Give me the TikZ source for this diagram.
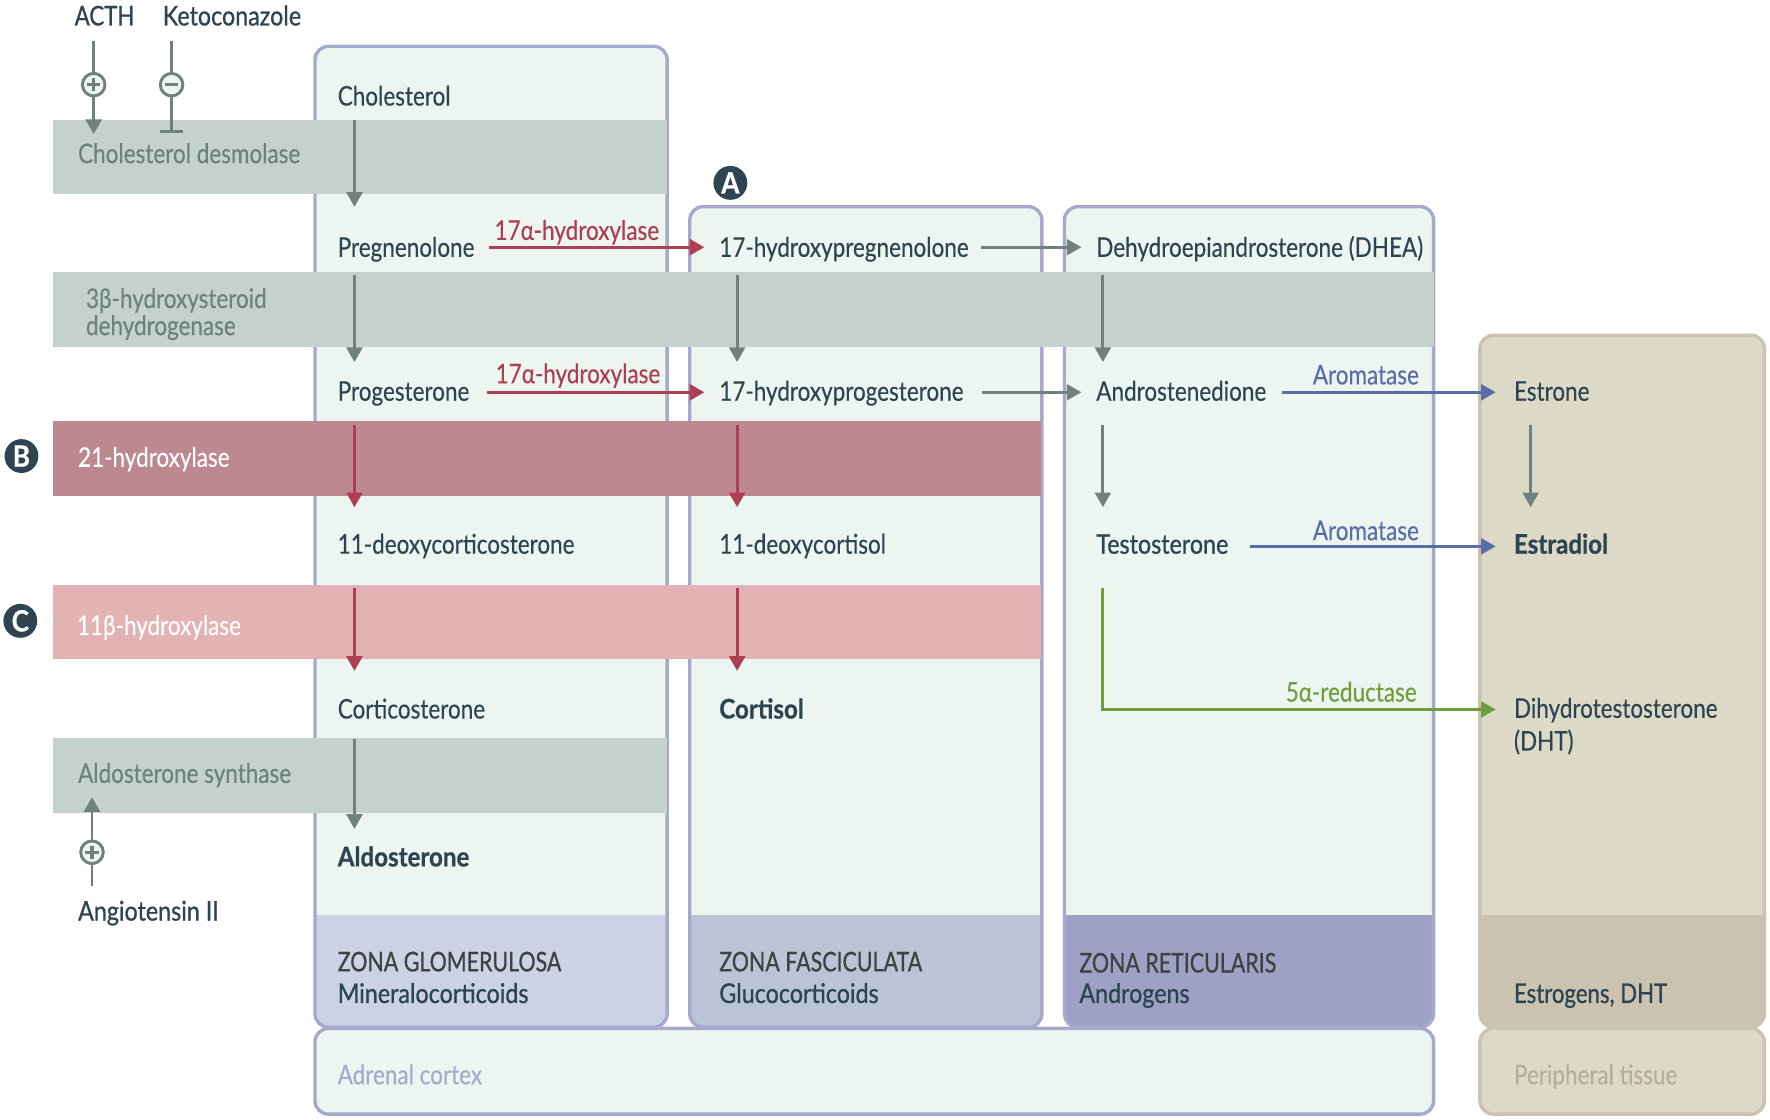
\documentclass[tikz,border=0pt]{standalone}
\usepackage{fontspec}
\setmainfont[FakeStretch=0.83,FakeBold=0.25]{Lato}
\newfontfamily\medf[FakeStretch=0.82,FakeBold=0.8]{Lato}
\newfontfamily\medw[FakeStretch=0.86,FakeBold=0.8]{Lato}
\newfontfamily\capsf[FakeStretch=0.79,FakeBold=0.7]{Lato}
\newfontfamily\strongf[FakeStretch=0.89,FakeBold=0.7]{Lato}
\usetikzlibrary{arrows.meta,calc}
\definecolor{boxfill}{HTML}{ECF5F0}
\definecolor{boxline}{HTML}{A6A9CC}
\definecolor{perifill}{HTML}{DCD9C6}
\definecolor{periline}{HTML}{CBC3B0}
\definecolor{footA}{HTML}{CBD2E3}
\definecolor{footB}{HTML}{BAC4D6}
\definecolor{footC}{HTML}{9FA1C4}
\definecolor{bandgray}{HTML}{C5D1CC}
\definecolor{bandred}{HTML}{BE8890}
\definecolor{bandpink}{HTML}{E3B2B4}
\definecolor{ink}{HTML}{2E4450}
\definecolor{inkgray}{HTML}{3F4243}
\definecolor{lncol}{HTML}{6F807F}
\definecolor{redc}{HTML}{AE3F52}
\definecolor{bluec}{HTML}{5B6DA8}
\definecolor{greenc}{HTML}{6F9E3D}
\definecolor{peritext}{HTML}{B5AE9C}
\newcommand{\zonebox}[6]{%
  \begin{scope}
    \clip[rounded corners=12pt] (#1,#2) rectangle (#3,910);
    \fill[#5] (#1,#2) rectangle (#3,910);
    \fill[#4] (#1,811) rectangle (#3,910);
  \end{scope}
  \draw[#6,line width=3pt,rounded corners=12pt] (#1,#2) rectangle (#3,910);
}
\tikzset{
  lbl/.style={anchor=west,inner sep=0pt,text height=19pt,text depth=2pt,font=\fontsize{24}{28}\selectfont,text=ink},
  med/.style={lbl,font=\fontsize{24}{28}\selectfont\medf},
  medwide/.style={lbl,font=\fontsize{24}{28}\selectfont\medw},
  capslbl/.style={lbl,text=inkgray,font=\fontsize{24}{28}\selectfont\capsf},
  strong/.style={lbl,font=\fontsize{24}{28}\selectfont\strongf\bfseries},
  enz/.style={lbl,text=lncol},
  multi/.style={anchor=north west,inner sep=0pt,align=left,text=ink},
  bandbox/.style={inner sep=0pt,minimum height=66pt},
  badge/.style={circle,fill=ink,text=white,inner sep=0pt,minimum size=30pt,font=\fontsize{26}{26}\selectfont\strongf\bfseries},
  signc/.style={circle,draw=lncol,fill=boxfill,line width=2.6pt,inner sep=0pt,minimum size=20pt},
  garr/.style={draw=lncol,line width=2.6pt,-{Triangle[width=14pt,length=13pt]}},
  rarr/.style={draw=redc,line width=2.8pt,-{Triangle[width=14pt,length=13pt]}},
  barr/.style={draw=bluec,line width=2.8pt,-{Triangle[width=14pt,length=13pt]}},
  narr/.style={draw=greenc,line width=2.8pt,-{Triangle[width=14pt,length=13pt]}},
}
\begin{document}
\begin{tikzpicture}[x=1pt,y=-1pt]
\useasboundingbox (0,0) rectangle (1568,991.3);
% zones
\zonebox{279}{41}{591}{footA}{boxfill}{boxline}
\zonebox{611}{183}{923}{footB}{boxfill}{boxline}
\zonebox{943}{183}{1270}{footC}{boxfill}{boxline}
\zonebox{1311}{297}{1563}{periline}{perifill}{periline}
\draw[boxline,fill=boxfill,line width=3pt,rounded corners=12pt] (279,911) rectangle (1270,987);
\draw[periline,fill=perifill,line width=3pt,rounded corners=12pt] (1311,911) rectangle (1563,987);
% enzyme bands
\node[bandbox,fill=bandgray,minimum width=544pt] (bDes) at (319,139) {};
\node[bandbox,fill=bandgray,minimum width=1223pt] (bHsd) at (658.5,274) {};
\node[bandbox,fill=bandred,minimum width=875pt] (bH21) at (484.5,406) {};
\node[bandbox,fill=bandpink,minimum width=875pt] (bH11) at (484.5,551) {};
\node[bandbox,fill=bandgray,minimum width=544pt] (bAld) at (319,687) {};
% badges
\node[badge] (bdgA) at (647,162) {A};
\node[badge] (bdgB) at (19,404) {B};
\node[badge] (bdgC) at (18,550) {C};
% top regulators
\node[med] (acth) at (66,14) {ACTH};
\node[medwide] (keto) at (144,14) {Ketoconazole};
\node[medwide] (angio) at (69,807) {Angiotensin II};
\node[signc] (plusA) at (83,75) {};
\node[signc] (minusK) at (152,75) {};
\node[signc] (plusG) at (81.5,755) {};
\draw[lncol,line width=2.8pt] ($(plusA)+(-6,0)$) -- ($(plusA)+(6,0)$) ($(plusA)+(0,-6)$) -- ($(plusA)+(0,6)$);
\draw[lncol,line width=2.8pt] ($(minusK)+(-6,0)$) -- ($(minusK)+(6,0)$);
\draw[lncol,line width=2.8pt] ($(plusG)+(-6,0)$) -- ($(plusG)+(6,0)$) ($(plusG)+(0,-6)$) -- ($(plusG)+(0,6)$);
% texts
\node[lbl] (chol) at (299,85) {Cholesterol};
\node[enz] (tDes) at (69,136) {Cholesterol desmolase};
\node[lbl] (preg) at (299,219) {Pregnenolone};
\node[lbl] (hpreg) at (637,219) {17-hydroxypregnenolone};
\node[lbl] (dhea) at (971,219) {Dehydroepiandrosterone (DHEA)};
\node[multi,text=lncol,font=\fontsize{24}{24}\selectfont] (tHsd) at (76,255) {3β-hydroxysteroid\\dehydrogenase};
\node[lbl] (prog) at (299,346.5) {Progesterone};
\node[lbl] (hprog) at (637,346.5) {17-hydroxyprogesterone};
\node[lbl] (andro) at (971,346.5) {Androstenedione};
\node[lbl] (estrone) at (1341,346.5) {Estrone};
\node[lbl,text=white] (tH21) at (69,405) {21-hydroxylase};
\node[lbl] (doc) at (299,482) {11-deoxycorticosterone};
\node[lbl] (dcort) at (637,482) {11-deoxycortisol};
\node[medwide] (testo) at (971,482) {Testosterone};
\node[strong] (estradiol) at (1341,482) {Estradiol};
\node[lbl,text=white] (tH11) at (68,554) {11β-hydroxylase};
\node[lbl] (cortico) at (299,628) {Corticosterone};
\node[strong] (cortisol) at (637,628) {Cortisol};
\node[multi,font=\fontsize{24}{29}\selectfont] (dht) at (1341,618) {Dihydrotestosterone\\(DHT)};
\node[enz] (tAld) at (69,685) {Aldosterone synthase};
\node[strong] (aldo) at (299,759) {Aldosterone};
% footers
\node[capslbl] (zg) at (299,852) {ZONA GLOMERULOSA};
\node[medwide] (mc) at (299,880) {Mineralocorticoids};
\node[capslbl] (zf) at (637,852) {ZONA FASCICULATA};
\node[medwide] (gc) at (637,880) {Glucocorticoids};
\node[capslbl] (zr) at (956,853) {ZONA RETICULARIS};
\node[medwide] (an) at (956,880) {Androgens};
\node[med] (ed) at (1341,880) {Estrogens, DHT};
\node[lbl,text=boxline] (ac) at (299,952) {Adrenal cortex};
\node[lbl,text=peritext] (pt) at (1341,952) {Peripheral tissue};
% regulators' connectors
\draw[draw=lncol,line width=2.6pt,shorten <=12pt] (plusA |- acth.south) -- (plusA.north);
\draw[garr,shorten >=-13pt] (plusA.south) -- (plusA |- bDes.north);
\draw[draw=lncol,line width=2.6pt,shorten <=12pt] (minusK |- keto.south) -- (minusK.north);
\draw[draw=lncol,line width=2.6pt,-{Bar[width=20pt,length=3pt]},shorten >=-12pt] (minusK.south) -- (minusK |- bDes.north);
\draw[draw=lncol,line width=2.6pt,shorten <=11pt] (plusG |- angio.north) -- (plusG.south);
\draw[garr,shorten >=-14pt] (plusG.north) -- (plusG |- bAld.south);
% vertical arrows
\draw[garr,shorten <=10.5pt,shorten >=25pt] ([xshift=15pt]chol.south west) -- ([xshift=15pt]preg.north west);
\draw[garr,shorten <=14pt,shorten >=15pt] ([xshift=15pt]preg.south west) -- ([xshift=15pt]prog.north west);
\draw[garr,shorten <=14pt,shorten >=15pt] ([xshift=16pt]hpreg.south west) -- ([xshift=16pt]hprog.north west);
\draw[garr,shorten <=14pt,shorten >=15pt] ([xshift=6pt]dhea.south west) -- ([xshift=6pt]andro.north west);
\draw[rarr,shorten <=19pt,shorten >=22pt] ([xshift=15pt]prog.south west) -- ([xshift=15pt]doc.north west);
\draw[rarr,shorten <=19pt,shorten >=22pt] ([xshift=16pt]hprog.south west) -- ([xshift=16pt]dcort.north west);
\draw[garr,shorten <=19pt,shorten >=22pt] ([xshift=6pt]andro.south west) -- ([xshift=6pt]testo.north west);
\draw[garr,shorten <=19pt,shorten >=22pt] ([xshift=15pt]estrone.south west) -- ([xshift=15pt]estradiol.north west);
\draw[rarr,shorten <=28pt,shorten >=23pt] ([xshift=15pt]doc.south west) -- ([xshift=15pt]cortico.north west);
\draw[rarr,shorten <=28pt,shorten >=23pt] ([xshift=16pt]dcort.south west) -- ([xshift=16pt]cortisol.north west);
\draw[garr,shorten <=16pt,shorten >=14pt] ([xshift=15pt]cortico.south west) -- ([xshift=15pt]aldo.north west);
% horizontal arrows
\draw[rarr,shorten <=13pt,shorten >=13pt] (preg.east) -- (hpreg.west);
\draw[rarr,shorten <=15pt,shorten >=13pt] ([yshift=-1pt]prog.east) -- ([yshift=-1pt]hprog.west);
\draw[garr,shorten <=11pt,shorten >=13pt] (hpreg.east) -- (dhea.west);
\draw[garr,shorten <=16pt,shorten >=13pt] ([yshift=-1pt]hprog.east) -- ([yshift=-1pt]andro.west);
\draw[barr,shorten <=14pt,shorten >=16pt] ([yshift=-1pt]andro.east) -- ([yshift=-1pt]estrone.west);
\draw[barr,shorten <=19pt,shorten >=16pt] ([yshift=-2pt]testo.east) -- ([yshift=-2pt]estradiol.west);
\coordinate (dhtin) at ([xshift=-16pt,yshift=-10.5pt]dht.north west);
\draw[narr,shorten <=28pt] ([xshift=6pt]testo.south west) |- (dhtin);
% arrow labels
\node[lbl,anchor=center,text=redc] (l1) at (511,204) {17α-hydroxylase};
\node[lbl,anchor=center,text=redc] (l2) at (512,331) {17α-hydroxylase};
\node[lbl,anchor=center,text=bluec] (l3) at (1210,332) {Aromatase};
\node[lbl,anchor=center,text=bluec] (l4) at (1210,470) {Aromatase};
\node[lbl,anchor=center,text=greenc] (l5) at (1197,613) {5α-reductase};
\end{tikzpicture}
\end{document}
